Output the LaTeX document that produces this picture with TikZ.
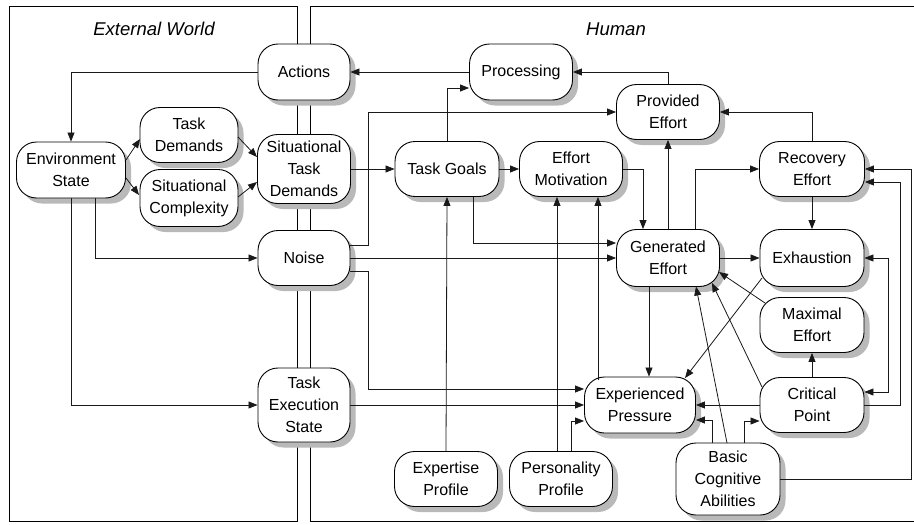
\documentclass[tikz,border=0pt]{standalone}
\usepackage{fontspec}
\setmainfont{Liberation Sans}
\usetikzlibrary{arrows.meta,calc,shadows}
\begin{document}
\begin{tikzpicture}[x=1pt,y=-1pt,
  box/.style={draw=black, line width=0.9pt, rounded corners=20pt, fill=white, align=center,
    inner sep=0pt, font=\fontsize{16}{22}\selectfont,
    drop shadow={shadow xshift=5.5pt, shadow yshift=-5.5pt, fill=gray!55, opacity=1}},
  conn/.style={line width=0.8pt, draw=black!90, -{Triangle[length=9pt,width=7pt]}},
  conntwo/.style={line width=0.8pt, draw=black!90, {Triangle[length=9pt,width=7pt]}-{Triangle[length=9pt,width=7pt]}},
  frameline/.style={line width=0.8pt, draw=black},
  titletext/.style={font=\fontsize{18.5}{20}\selectfont\itshape}]
\useasboundingbox (0,0) rectangle (914,525);
\fill[white] (0,0) rectangle (914,525);
% frames
\draw[frameline] (9,6) rectangle (297,521);
\draw[frameline] (916,6) -- (310,6) -- (310,521) -- (916,521);
\node[titletext] (tw) at (154,29) {External World};
\node[titletext] (th) at (616,29) {Human};
% nodes
\node[box, minimum width=92pt, minimum height=56pt] (act) at (304,72) {Actions};
\node[box, minimum width=103pt, minimum height=56pt] (proc) at (521,72) {Processing};
\node[box, minimum width=103pt, minimum height=55pt] (pe) at (668,112) {Provided\\Effort};
\node[box, minimum width=105pt, minimum height=55pt] (re) at (812,169) {Recovery\\Effort};
\node[box, minimum width=103pt, minimum height=57pt] (ge) at (668,258) {Generated\\Effort};
\node[box, minimum width=104pt, minimum height=57pt] (exh) at (812,258) {Exhaustion};
\node[box, minimum width=104pt, minimum height=55pt] (me) at (812,325) {Maximal\\Effort};
\node[box, minimum width=104pt, minimum height=55pt] (cp) at (812,405) {Critical\\Point};
\node[box, minimum width=111pt, minimum height=56pt] (ep) at (640,405) {Experienced\\Pressure};
\node[box, minimum width=104pt, minimum height=72pt] (bca) at (728,479) {Basic\\Cognitive\\Abilities};
\node[box, minimum width=103pt, minimum height=55pt] (pp) at (561,479) {Personality\\Profile};
\node[box, minimum width=103pt, minimum height=55pt] (xp) at (446,479) {Expertise\\Profile};
\node[box, minimum width=92pt, minimum height=74pt] (tes) at (304,405) {Task\\Execution\\State};
\node[box, minimum width=92pt, minimum height=55pt] (noise) at (304,258) {Noise};
\node[box, minimum width=93pt, minimum height=69pt] (std) at (304,169) {Situational\\Task\\Demands};
\node[box, minimum width=98pt, minimum height=55pt] (td) at (189,135) {Task\\Demands};
\node[box, minimum width=98pt, minimum height=57pt] (sc) at (189,198) {Situational\\Complexity};
\node[box, minimum width=109pt, minimum height=56pt] (env) at (71,170) {Environment\\State};
\node[box, minimum width=104pt, minimum height=55pt] (tg) at (447,169) {Task Goals};
\node[box, minimum width=103pt, minimum height=55pt] (em) at (571,169) {Effort\\Motivation};
% connectors
\draw[conn] (act.west) -| (env.north);
\draw[conn] (proc.west) -- (act.east);
\draw[conn] (pe.north) |- (proc.east);
\draw[conn] ($(env)+(55,-10)$) -- ($(td)+(-49,4)$);
\draw[conn] ($(env)+(55,8)$) -- ($(sc)+(-50,-3)$);
\draw[conn] ($(td)+(49,2)$) -- ($(std)+(-47,-12)$);
\draw[conn] ($(sc)+(49,-1)$) -- ($(std)+(-47,13)$);
\draw[conn] ($(env.south)+(24,0)$) |- (noise.west);
\draw[conn] (env.south) |- (tes.west);
\draw[conn] (std.east) -- (tg.west);
\draw[conn] (tg.north) |- ($(proc.west)+(0,16)$);
\draw[conn] ($(noise.east)+(0,-13)$) -- ++(18,0) |- (pe.west);
\draw[conn] (tg.east) -- (em.west);
\draw[conn] ($(tg.south)+(26,0)$) |- ($(ge.west)+(0,-15)$);
\draw[conn] (noise.east) -- (ge.west);
\draw[conn] (em.east) -| ($(ge.north)+(-25,0)$);
\draw[conn] (ge.north) -- (pe.south);
\draw[conn] ($(ge.north)+(27,0)$) |- (re.west);
\draw[conn] (re.north) |- (pe.east);
\draw[conn] (re.south) -- (exh.north);
\draw[conn] (ge.east) -- (exh.west);
\draw[conn] ($(exh)+(-50,20)$) -- ($(ep)+(45,-27)$);
\draw[conn] ($(me)+(-47,-22)$) -- ($(ge)+(51,14)$);
\draw[conn] ($(cp)+(-50,-18)$) -- ($(ge)+(44,25)$);
\draw[conn] ($(bca)+(-1,-36)$) -- ($(ge)+(28,28.5)$);
\coordinate (g1) at ($(ge.south)+(-19,0)$);
\draw[conn] (g1) -- (g1 |- ep.north);
\draw[conn] (cp.north) -- (me.south);
\draw[conn] (cp.west) -- (ep.east);
\draw[conn] ($(bca.north)+(-16,0)$) |- ($(ep.east)+(0,15)$);
\draw[conn] ($(bca.north)+(16,0)$) |- ($(cp.west)+(0,16)$);
\draw[conn] (cp.east) -- ++(36,0) |- ($(re.east)+(0,13)$);
\draw[conntwo] ($(cp.east)+(0,-13)$) -- ++(24,0) |- (exh.east);
\draw[conn] (bca.east) -- ++(131,0) |- (re.east);
\draw[conn] ($(noise.east)+(0,13)$) -- ++(18,0) |- ($(ep.west)+(0,-16)$);
\draw[conn] (tes.east) -- (ep.west);
\draw[conn] ($(pp.north)+(10,0)$) |- ($(ep.west)+(0,16)$);
\draw[conn] (xp.north) -- (tg.south);
\coordinate (p1) at ($(pp.north)+(-4,0)$);
\draw[conn] (p1) -- (p1 |- em.south);
\coordinate (e1) at ($(ep.north)+(-42,3)$);
\draw[conn] (e1) -- (e1 |- em.south);
\end{tikzpicture}
\end{document}
